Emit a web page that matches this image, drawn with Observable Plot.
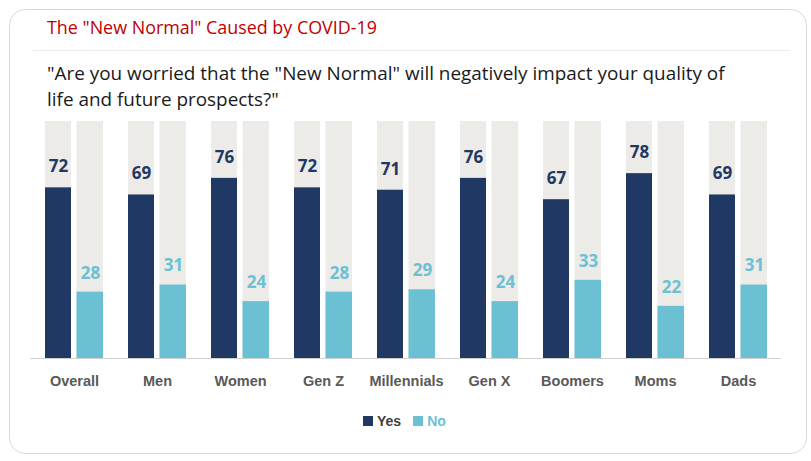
<!DOCTYPE html>
<html>
<head>
<meta charset="utf-8">
<script src="https://cdn.jsdelivr.net/npm/d3@7"></script>
<script src="https://cdn.jsdelivr.net/npm/@observablehq/plot@0.6"></script>
<style>
  html, body { margin: 0; padding: 0; background: #fff; }
  body { width: 811px; height: 461px; position: relative; overflow: hidden; font-family: "Open Sans", sans-serif; }
  #frame { position: absolute; left: 9px; top: 9px; width: 798px; height: 445px; border: 1.5px solid #d9d9d9; border-radius: 16px; box-sizing: border-box; }
  #title { position: absolute; left: 47px; top: 15px; font-size: 17.9px; color: #c00000; white-space: nowrap; }
  #sep { position: absolute; left: 33px; top: 50px; width: 757px; height: 1px; background: #ececec; }
  #question { position: absolute; left: 47px; top: 60px; font-size: 18.9px; line-height: 26px; color: #1a1a1a; white-space: nowrap; }
  #chart { position: absolute; left: 0; top: 110px; }
  #legend { position: absolute; top: 413px; left: 363px; font-family: "Liberation Sans", Arial, sans-serif; font-weight: bold; font-size: 14px; display: flex; align-items: center; }
  #legend .sw { width: 10px; height: 10px; display: inline-block; margin-right: 4px; }
</style>
</head>
<body>
<div id="frame"></div>
<div id="title">The "New Normal" Caused by COVID-19</div>
<div id="sep"></div>
<div id="question">"Are you worried that the "New Normal" will negatively impact your quality of<br>life and future prospects?"</div>
<div id="chart"></div>
<div id="legend">
  <span class="sw" style="background:#1f3864"></span><span style="color:#404040;margin-right:12px">Yes</span>
  <span class="sw" style="background:#6bc1d3"></span><span style="color:#6bc1d3">No</span>
</div>
<script>
const categories = ["Overall", "Men", "Women", "Gen Z", "Millennials", "Gen X", "Boomers", "Moms", "Dads"];
const yesValues = [72, 69, 76, 72, 71, 76, 67, 78, 69];
const noValues = [28, 31, 24, 28, 29, 24, 33, 22, 31];
const fullValue = 100;

const yesColor = "#1f3864";
const noColor = "#6bc1d3";
const bgColor = "#ecebe7";

const rows = categories.map((c, i) => ({category: c, yes: yesValues[i], no: noValues[i], full: fullValue}));

const barW = 26;   // width of each bar, px
const groupW = 58; // width of a group (two bars + gap)

const chart = Plot.plot({
  width: 811,
  height: 290,
  marginTop: 11,
  marginBottom: 42,
  marginLeft: 30,
  marginRight: 30,
  x: {domain: categories, paddingInner: 0.305, paddingOuter: 0.15, label: null},
  y: {domain: [0, 100], axis: null},
  style: {fontFamily: "Liberation Sans, Arial, sans-serif", background: "transparent", overflow: "visible"},
  marks: [
    Plot.barY(rows, {x: "category", y: "full", fill: bgColor, insetRight: groupW - barW}),
    Plot.barY(rows, {x: "category", y: "full", fill: bgColor, insetLeft: groupW - barW - 0.5}),
    Plot.barY(rows, {x: "category", y: "yes", fill: yesColor, insetRight: groupW - barW}),
    Plot.barY(rows, {x: "category", y: "no", fill: noColor, insetLeft: groupW - barW - 0.5}),
    Plot.text(rows, {x: "category", y: "yes", text: d => String(d.yes), dx: -(groupW - barW) / 2, dy: -21,
      fill: yesColor, fontSize: 17, fontWeight: "bold", fontFamily: "Open Sans, sans-serif"}),
    Plot.text(rows, {x: "category", y: "no", text: d => String(d.no), dx: (groupW - barW) / 2, dy: -19,
      fill: noColor, fontSize: 17, fontWeight: "bold", fontFamily: "Open Sans, sans-serif"}),
    Plot.ruleY([0], {stroke: "#d0d0d0", strokeWidth: 1.2}),
    Plot.axisX({tickSize: 0, tickPadding: 17, fontSize: 14.5, fontWeight: "bold", fill: "#595959", label: null})
  ]
});
document.getElementById("chart").appendChild(chart);
</script>
</body>
</html>
